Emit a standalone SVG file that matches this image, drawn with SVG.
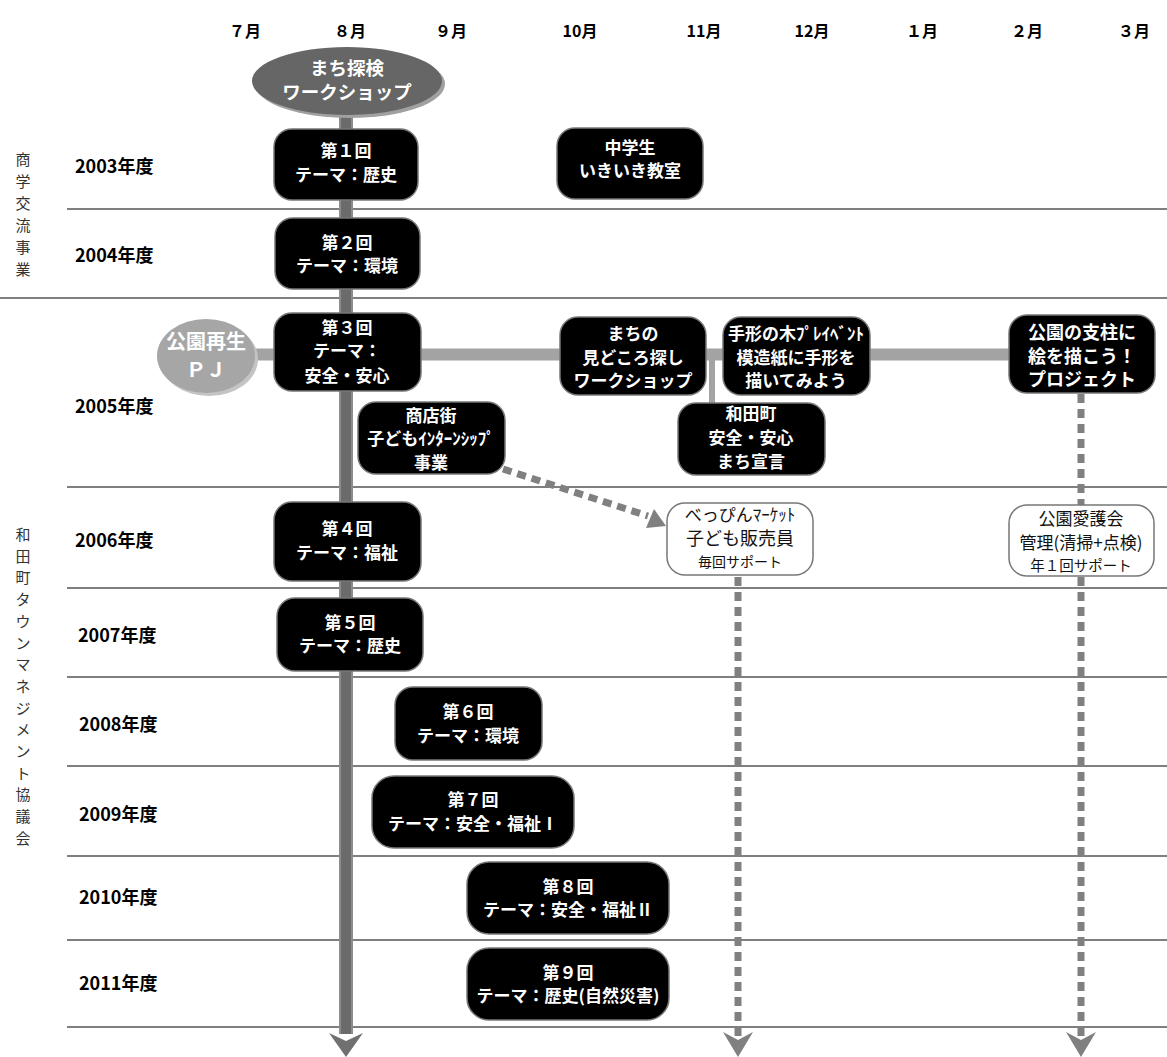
<svg xmlns="http://www.w3.org/2000/svg" width="1167" height="1057" viewBox="0 0 1167 1057">
<style>
text{font-family:"Noto Sans CJK JP","Noto Sans",sans-serif}
.box{fill:#000;stroke:#777;stroke-width:1.5}
.wbox{fill:#fff;stroke:#777;stroke-width:1.5}
.wt{fill:#fff;font-weight:bold;font-size:17px;text-anchor:middle}
.bt{fill:#111;text-anchor:middle}
.mon{fill:#000;font-weight:bold;font-size:16px;text-anchor:middle}
.yr{fill:#000;font-weight:bold;font-size:18px}
.vt{fill:#333;font-size:15px;text-anchor:middle}
.grid{stroke:#555;stroke-width:1.5}
.dot{stroke:#808080;stroke-width:7;stroke-dasharray:9 6;fill:none}
</style>
<rect width="1167" height="1057" fill="#fff"/>
<g id="grid">
<line class="grid" x1="67" y1="209" x2="1167" y2="209"/>
<line class="grid" x1="0" y1="298" x2="1167" y2="298"/>
<line class="grid" x1="67" y1="487" x2="1167" y2="487"/>
<line class="grid" x1="67" y1="588" x2="1167" y2="588"/>
<line class="grid" x1="67" y1="677" x2="1167" y2="677"/>
<line class="grid" x1="67" y1="766" x2="1167" y2="766"/>
<line class="grid" x1="67" y1="856" x2="1167" y2="856"/>
<line class="grid" x1="67" y1="940" x2="1167" y2="940"/>
<line class="grid" x1="67" y1="1027" x2="1167" y2="1027"/>
</g>
<g id="months">
<text class="mon" x="245" y="37">７月</text>
<text class="mon" x="350" y="37">８月</text>
<text class="mon" x="451" y="37">９月</text>
<text class="mon" x="580" y="37">10月</text>
<text class="mon" x="704" y="37">11月</text>
<text class="mon" x="812" y="37">12月</text>
<text class="mon" x="922" y="37">１月</text>
<text class="mon" x="1027" y="37">２月</text>
<text class="mon" x="1134" y="37">３月</text>
</g>
<g id="years">
<text class="yr" x="75" y="173">2003年度</text>
<text class="yr" x="75" y="262">2004年度</text>
<text class="yr" x="75" y="413">2005年度</text>
<text class="yr" x="75" y="547">2006年度</text>
<text class="yr" x="78" y="642">2007年度</text>
<text class="yr" x="79" y="731">2008年度</text>
<text class="yr" x="79" y="821">2009年度</text>
<text class="yr" x="79" y="904">2010年度</text>
<text class="yr" x="79" y="990">2011年度</text>
</g>
<g id="org-labels">
<text class="vt"><tspan x="23" y="164.5">商</tspan><tspan x="23" y="186.5">学</tspan><tspan x="23" y="208.5">交</tspan><tspan x="23" y="230.5">流</tspan><tspan x="23" y="252.5">事</tspan><tspan x="23" y="274.5">業</tspan></text>
<text class="vt"><tspan x="23" y="540">和</tspan><tspan x="23" y="561.7">田</tspan><tspan x="23" y="583.4">町</tspan><tspan x="23" y="605.1">タ</tspan><tspan x="23" y="626.8">ウ</tspan><tspan x="23" y="648.5">ン</tspan><tspan x="23" y="670.2">マ</tspan><tspan x="23" y="691.9">ネ</tspan><tspan x="23" y="713.6">ジ</tspan><tspan x="23" y="735.3">メ</tspan><tspan x="23" y="757">ン</tspan><tspan x="23" y="778.7">ト</tspan><tspan x="23" y="800.4">協</tspan><tspan x="23" y="822.1">議</tspan><tspan x="23" y="843.8">会</tspan></text>
</g>
<g id="connectors">
<rect x="339" y="108" width="14" height="926" fill="#8c8c8c"/>
<rect x="341" y="108" width="10" height="926" fill="#6b6b6b"/>
<polygon points="329,1033 346,1057 363,1033 346,1041" fill="#707070"/>
<line x1="250" y1="354.5" x2="1010" y2="354.5" stroke="#a3a3a3" stroke-width="12"/>
<line x1="712" y1="358" x2="712" y2="404" stroke="#a3a3a3" stroke-width="6"/>
<line class="dot" x1="503" y1="469" x2="648" y2="516"/>
<polygon points="654,509 646,528 666,526" fill="#808080"/>
<line class="dot" x1="738" y1="577" x2="738" y2="1036"/>
<polygon points="723,1032 738,1057 753,1032 738,1040" fill="#808080"/>
<line class="dot" x1="1081" y1="394" x2="1081" y2="505"/>
<line class="dot" x1="1081" y1="577" x2="1081" y2="1036"/>
<polygon points="1066,1032 1081,1057 1096,1032 1081,1040" fill="#808080"/>
</g>
<g id="n-machitanken">
<ellipse cx="350" cy="84" rx="95" ry="34" fill="#a0a0a0"/>
<ellipse cx="347" cy="81" rx="95" ry="34" fill="#666"/>
<text class="wt" style="font-size:18.5px"><tspan x="347" y="75">まち探検</tspan><tspan x="347" y="99">ワークショップ</tspan></text>
</g>
<g id="n-kouen-pj">
<ellipse cx="209" cy="359" rx="49" ry="37" fill="#c4c4c4"/>
<ellipse cx="206" cy="356" rx="49" ry="37" fill="#a6a6a6"/>
<text class="wt" style="font-size:20px"><tspan x="206" y="349">公園再生</tspan><tspan x="206" y="377">ＰＪ</tspan></text>
</g>
<g id="n-dai1">
<rect class="box" x="274" y="129" width="144" height="71" rx="18"/>
<text class="wt"><tspan x="346" y="157">第１回</tspan><tspan x="346" y="181">テーマ：歴史</tspan></text>
</g>
<g id="n-chugakusei">
<rect class="box" x="557" y="128" width="146" height="71" rx="18"/>
<text class="wt"><tspan x="630" y="154">中学生</tspan><tspan x="630" y="177">いきいき教室</tspan></text>
</g>
<g id="n-dai2">
<rect class="box" x="275" y="218" width="145" height="71" rx="18"/>
<text class="wt"><tspan x="347" y="249">第２回</tspan><tspan x="347" y="272">テーマ：環境</tspan></text>
</g>
<g id="n-dai3">
<rect class="box" x="274" y="313" width="147" height="78" rx="18"/>
<text class="wt"><tspan x="347" y="333.5">第３回</tspan><tspan x="347" y="356.5">テーマ：</tspan><tspan x="347" y="381.5">安全・安心</tspan></text>
</g>
<g id="n-shotengai">
<rect class="box" x="358" y="402" width="147" height="72" rx="18"/>
<text class="wt"><tspan x="431" y="422">商店街</tspan><tspan x="431" y="445">子どもｲﾝﾀｰﾝｼｯﾌﾟ</tspan><tspan x="431" y="468.5">事業</tspan></text>
</g>
<g id="n-machino">
<rect class="box" x="560" y="317" width="146" height="78" rx="18"/>
<text class="wt"><tspan x="633" y="339.5">まちの</tspan><tspan x="633" y="363.5">見どころ探し</tspan><tspan x="633" y="386.5">ワークショップ</tspan></text>
</g>
<g id="n-tegata">
<rect class="box" x="723" y="317" width="147" height="78" rx="18"/>
<text class="wt"><tspan x="796" y="339.5">手形の木ﾌﾟﾚｲﾍﾞﾝﾄ</tspan><tspan x="796" y="363.5">模造紙に手形を</tspan><tspan x="796" y="386.5">描いてみよう</tspan></text>
</g>
<g id="n-wadamachi">
<rect class="box" x="678" y="403" width="147" height="72" rx="18"/>
<text class="wt"><tspan x="751" y="419.5">和田町</tspan><tspan x="751" y="444">安全・安心</tspan><tspan x="751" y="467.5">まち宣言</tspan></text>
</g>
<g id="n-shichu">
<rect class="box" x="1009" y="315" width="146" height="78" rx="18"/>
<text class="wt" style="font-size:18px"><tspan x="1082" y="339">公園の支柱に</tspan><tspan x="1082" y="362.5">絵を描こう！</tspan><tspan x="1082" y="386">プロジェクト</tspan></text>
</g>
<g id="n-beppin">
<rect class="wbox" x="667" y="503" width="146" height="72" rx="18"/>
<text class="bt"><tspan x="740" y="521" style="font-size:17px">べっぴんﾏｰｹｯﾄ</tspan><tspan x="740" y="545" style="font-size:18px">子ども販売員</tspan><tspan x="740" y="567" style="font-size:14px">毎回サポート</tspan></text>
</g>
<g id="n-aigokai">
<rect class="wbox" x="1009" y="505" width="145" height="71" rx="18"/>
<text class="bt"><tspan x="1081" y="525" style="font-size:17px">公園愛護会</tspan><tspan x="1081" y="548.5" style="font-size:17px">管理(清掃+点検)</tspan><tspan x="1081" y="570.5" style="font-size:14.5px">年１回サポート</tspan></text>
</g>
<g id="n-dai4">
<rect class="box" x="274" y="502" width="147" height="79" rx="18"/>
<text class="wt"><tspan x="347" y="534.5">第４回</tspan><tspan x="347" y="558.5">テーマ：福祉</tspan></text>
</g>
<g id="n-dai5">
<rect class="box" x="277" y="598" width="146" height="73" rx="18"/>
<text class="wt"><tspan x="350" y="628.5">第５回</tspan><tspan x="350" y="651.5">テーマ：歴史</tspan></text>
</g>
<g id="n-dai6">
<rect class="box" x="395" y="687" width="147" height="73" rx="18"/>
<text class="wt"><tspan x="468" y="717.5">第６回</tspan><tspan x="468" y="741.5">テーマ：環境</tspan></text>
</g>
<g id="n-dai7">
<rect class="box" x="372" y="776" width="202" height="72" rx="22"/>
<text class="wt"><tspan x="473" y="805.5">第７回</tspan><tspan x="473" y="830">テーマ：安全・福祉Ⅰ</tspan></text>
</g>
<g id="n-dai8">
<rect class="box" x="467" y="862" width="202" height="72" rx="22"/>
<text class="wt"><tspan x="568" y="892.5">第８回</tspan><tspan x="568" y="915.5">テーマ：安全・福祉Ⅱ</tspan></text>
</g>
<g id="n-dai9">
<rect class="box" x="467" y="948" width="202" height="72" rx="22"/>
<text class="wt"><tspan x="568" y="978.5">第９回</tspan><tspan x="568" y="1001.5">テーマ：歴史(自然災害)</tspan></text>
</g>
</svg>
